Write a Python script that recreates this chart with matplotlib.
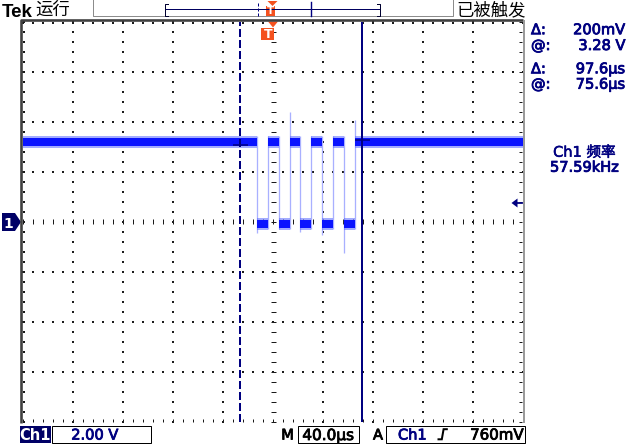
import numpy as np
import matplotlib
matplotlib.use('Agg')
import matplotlib.pyplot as plt
from matplotlib.patches import Rectangle, Polygon
import matplotlib.patheffects as pe

plt.rcParams['font.family'] = ['DejaVu Sans', 'Noto Sans CJK SC']

# ---------------- data ----------------
volts_per_div = 2.0
us_per_div = 40.0
screen_center_us = 4.2          # time at screen centre, relative to trigger
edge_times_us = [-8.7, 0.0, 9.1, 17.4, 26.0, 34.5, 43.3, 51.8, 60.6, 69.4]
high_level_v = 3.18
low_level_v = -0.08
edge_low_v = [-0.44, -0.3, -0.3, -0.3, -0.39, -0.3, -0.52, -0.3, -1.24, -0.3]
edge_high_v = [3.45, 3.45, 3.45, 4.41, 3.45, 3.45, 3.45, 3.45, 3.45, 4.08]
cursor_times_us = [-22.0, 75.6]
cursor_levels_v = [3.08, 3.28]
trigger_level_v = 0.76

readout_labels = ['Δ:', '@:', 'Δ:', '@:']
readout_values = ['200mV', '3.28 V', '97.6µs', '75.6µs']
freq_label = 'Ch1 频率'
freq_value = '57.59kHz'
ch_name = 'Ch1'
ch_scale = '2.00 V'
time_scale = '40.0µs'
trig_source = 'Ch1'
trig_level_text = '760mV'
status_left = '运行'
status_right = '已被触发'

# ---------------- figure ----------------
W, H = 629, 444
PT = 72 / 100.0  # points per pixel
fig = plt.figure(figsize=(W / 100, H / 100), dpi=100)
fig.patch.set_facecolor('white')

GL, GR, GT, GB = 23, 523, 22, 422


def frac_rect(l, t, r, b):
    return [l / W, 1 - b / H, (r - l) / W, (b - t) / H]


gax = fig.add_axes(frac_rect(GL, GT, GR, GB), zorder=1)
gax.set_xlim(-5, 5)
gax.set_ylim(-4, 4)
gax.axis('off')

ax = fig.add_axes(frac_rect(GL, GT, GR, GB), zorder=2)
ax.set_xlim(screen_center_us - 5 * us_per_div, screen_center_us + 5 * us_per_div)
ax.set_ylim(-4 * volts_per_div, 4 * volts_per_div)
ax.axis('off')

ui = fig.add_axes([0, 0, 1, 1], zorder=3)
ui.set_xlim(0, W)
ui.set_ylim(H, 0)
ui.axis('off')

NAVY = '#000080'
ORANGE = '#f4511e'
DOT = '#1a1a1a'

# ---------------- graticule ----------------
dk = dict(marker='s', s=0.9, c=DOT, linewidths=0, clip_on=False)
dk_fine = dict(marker='s', s=0.5, c='#6a6a6a', linewidths=0, clip_on=False)
minor_x = np.arange(-5, 5.001, 0.2)
minor_y = np.arange(-4, 4.001, 0.2)
for xv in range(-4, 5):
    if xv == 0:
        continue
    gax.scatter(np.full_like(minor_y, xv), minor_y, **dk)
for yv in range(-3, 4):
    if yv == 0:
        continue
    gax.scatter(minor_x, np.full_like(minor_x, yv), **dk)
dense_x = np.arange(-5, 5.001, 0.04)
dense_y = np.arange(-4, 4.001, 0.04)
gax.scatter(dense_x, np.zeros_like(dense_x), **dk_fine)
gax.scatter(np.zeros_like(dense_y), dense_y, **dk_fine)
gax.vlines(minor_x, -0.05, 0.05, colors=DOT, lw=1 * PT, clip_on=False)
gax.hlines(minor_y, -0.05, 0.05, colors=DOT, lw=1 * PT, clip_on=False)
# edges
gax.scatter(np.full_like(minor_y, -4.985), minor_y, **dk)
gax.scatter(minor_x, np.full_like(minor_x, 3.98), **dk)
gax.scatter(dense_x, np.full_like(dense_x, -4.0), **dk_fine)
gax.vlines(minor_x, -4.0, -3.94, colors=DOT, lw=1 * PT, clip_on=False)
gax.scatter(np.full_like(dense_y, 4.97), dense_y, **dk_fine)
gax.hlines(minor_y, 4.91, 4.97, colors=DOT, lw=1 * PT, clip_on=False)

# ---------------- trace ----------------
t_min, t_max = ax.get_xlim()
bounds = [t_min] + edge_times_us + [t_max]
levels = [high_level_v if i % 2 == 0 else low_level_v for i in range(len(bounds) - 1)]
ax.vlines(edge_times_us, edge_low_v, edge_high_v, colors='#a9b0ff', lw=1.3 * PT)
ax.hlines(levels, bounds[:-1], bounds[1:], colors='#5868ff', lw=12 * PT, alpha=0.55)
ax.hlines(levels, bounds[:-1], bounds[1:], colors='#0a14ff', lw=8 * PT)

# cursors
ax.axvline(cursor_times_us[0], color=NAVY, lw=2 * PT, dashes=(4, 1.5))
ax.axvline(cursor_times_us[1], color=NAVY, lw=2 * PT)
for t, v in zip(cursor_times_us, cursor_levels_v):
    ax.hlines(v, t - 6, t + 6, colors=NAVY, lw=1.5 * PT)


def px_y(v):
    return H - ax.transData.transform((0, v))[1]


def px_x(t):
    return ax.transData.transform((t, 0))[0]


# ---------------- frame ----------------
ui.plot([21, 21, 523], [423, 20.5, 20.5], color='#404040', lw=2.6 * PT, solid_capstyle='butt')
ui.plot([524.2, 524.2], [20, 423], color='#9a9a9a', lw=2 * PT, solid_capstyle='butt')


def txt(x, y, s, color='black', size=10.5, ha='left', bold_px=0.6, **kw):
    t = ui.text(x, y, s, color=color, fontsize=size, ha=ha, va='baseline', **kw)
    if bold_px:
        t.set_path_effects([pe.withStroke(linewidth=bold_px, foreground=color)])
    return t


# ---------------- top bar ----------------
txt(2, 16.7, 'Tek', size=13.5, fontfamily='Liberation Sans', fontweight='bold', bold_px=0)
txt(35, 15, status_left, size=12.5, fontfamily=['Noto Sans CJK SC', 'DejaVu Sans'], bold_px=0)
txt(456.5, 15, status_right, size=12.5, fontfamily=['Noto Sans CJK SC', 'DejaVu Sans'], bold_px=0)
ui.plot([93, 93, 452.5, 452.5], [0, 16.5, 16.5, 0], color='#8c8c8c', lw=1 * PT)

bar_l, bar_r = 165, 380


def bar_x(t):
    return bar_l + (bar_r - bar_l) * (t - t_min) / (t_max - t_min)


ui.plot([bar_l, bar_r], [9.3, 9.3], color='#000060', lw=1 * PT)
ui.plot([bar_l + 3, bar_l, bar_l, bar_l + 3], [4, 4, 16, 16], color='#000030', lw=1 * PT)
ui.plot([bar_r - 3, bar_r, bar_r, bar_r - 3], [4, 4, 16, 16], color='#000030', lw=1 * PT)
ui.plot([bar_x(cursor_times_us[0])] * 2, [3, 16], color=NAVY, lw=1 * PT, dashes=(3, 2))
ui.plot([bar_x(cursor_times_us[1])] * 2, [2, 16], color=NAVY, lw=1.4 * PT)
xc = bar_x(screen_center_us)
xt = bar_x(0.0)
ui.add_patch(Polygon([(xc - 5, 1), (xc + 5, 1), (xc, 6)], closed=True, fc=ORANGE, ec='none'))
ui.add_patch(Rectangle((xt - 4.5, 6), 9, 10, fc=ORANGE, ec='none'))
ui.text(xt, 11.2, 'T', color='white', fontsize=7.5, fontweight='bold', ha='center', va='center')

# graticule trigger markers
gxc = px_x(screen_center_us)
gxt = px_x(0.0)
ui.add_patch(Polygon([(gxc - 5, 21.5), (gxc + 5, 21.5), (gxc, 27.5)], closed=True, fc=ORANGE, ec='none'))
ui.add_patch(Rectangle((gxt - 6.3, 28), 12.6, 12, fc=ORANGE, ec='none'))
ui.text(gxt, 34.2, 'T', color='white', fontsize=9, fontweight='bold', ha='center', va='center')

# ground marker
y0 = px_y(0.0)
ui.add_patch(Polygon([(2, y0 - 9), (15, y0 - 9), (21, y0), (15, y0 + 9), (2, y0 + 9)],
                     closed=True, fc='#000066', ec='none'))
txt(8.5, y0 + 5.5, '1', color='white', size=10, ha='center', fontweight='bold', bold_px=0)

# trigger level arrow
yt = px_y(trigger_level_v)
ui.add_patch(Polygon([(511.5, yt), (517.5, yt - 4.5), (517.5, yt + 4.5)], closed=True, fc=NAVY, ec='none'))
ui.plot([517, 522], [yt, yt], color=NAVY, lw=1.8 * PT)

# ---------------- right readouts ----------------
base_rows = [34.2, 50, 73.3, 88.7]
for lab, val, yb in zip(readout_labels, readout_values, base_rows):
    txt(531, yb, lab, color=NAVY, size=10.5)
    txt(625.5, yb, val, color=NAVY, size=10.5, ha='right')
txt(584.5, 156.7, freq_label, color=NAVY, size=10.5, ha='center', bold_px=0.4)
txt(584.5, 171.7, freq_value, color=NAVY, size=10.5, ha='center')

# ---------------- bottom bar ----------------
ui.add_patch(Rectangle((20, 426), 31, 16.5, fc='#000066', ec='none'))
txt(35.5, 439.5, ch_name, color='white', size=10.5, ha='center', fontweight='bold', bold_px=0)
ui.add_patch(Rectangle((52, 426), 99, 17, fc='none', ec='black', lw=1 * PT))
txt(95, 439.5, ch_scale, color=NAVY, size=10.5, ha='center')
txt(287.5, 439.5, 'M', size=10.5, ha='center')
ui.add_patch(Rectangle((297.5, 426), 61, 17, fc='none', ec='black', lw=1 * PT))
txt(328, 440, time_scale, size=11, ha='center')
txt(378, 439.5, 'A', size=10.5, ha='center')
ui.add_patch(Rectangle((386, 426), 139, 17, fc='none', ec='black', lw=1 * PT))
txt(398, 439.5, trig_source, color=NAVY, size=10.5)
ui.plot([438.5, 441.8, 443.6, 446.8], [439.3, 439.3, 429.2, 429.2], color='black', lw=2 * PT,
        solid_joinstyle='miter')
txt(523.5, 439.5, trig_level_text, size=10.8, ha='right')

fig.savefig('out.png', dpi=100)
